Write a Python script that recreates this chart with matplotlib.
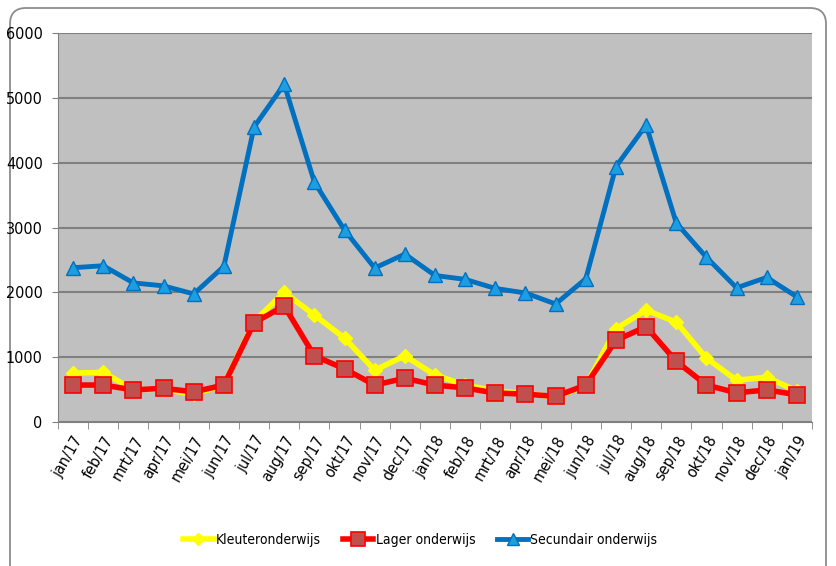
import numpy as np
import matplotlib
matplotlib.use("Agg")
import matplotlib.pyplot as plt
from matplotlib.patches import FancyBboxPatch

plt.rcParams['font.family'] = ['DejaVu Sans']
plt.rcParams['font.stretch'] = 'condensed'

months = ["jan/17", "feb/17", "mrt/17", "apr/17", "mei/17", "jun/17", "jul/17", "aug/17",
          "sep/17", "okt/17", "nov/17", "dec/17", "jan/18", "feb/18", "mrt/18", "apr/18",
          "mei/18", "jun/18", "jul/18", "aug/18", "sep/18", "okt/18", "nov/18", "dec/18",
          "jan/19"]

kleuter = [755, 765, 500, 505, 425, 570, 1550, 2000, 1650, 1295, 800, 1020, 725, 570,
           480, 440, 385, 560, 1440, 1725, 1540, 985, 645, 690, 480]
lager = [570, 570, 495, 520, 465, 570, 1530, 1790, 1020, 820, 570, 675, 570, 525,
         447, 430, 395, 570, 1260, 1470, 935, 570, 450, 495, 420]
secundair = [2380, 2410, 2145, 2100, 1975, 2400, 4550, 5210, 3700, 2960, 2375, 2590,
             2260, 2200, 2060, 1990, 1820, 2210, 3940, 4580, 3070, 2540, 2070, 2230, 1930]

fig = plt.figure(figsize=(8.36, 5.66), dpi=100)

# rounded frame round the chart, drawn in pixel units on a background axes
bg = fig.add_axes([0, 0, 1, 1])
bg.set_xlim(0, 836)
bg.set_ylim(566, 0)
bg.axis("off")
bg.add_patch(FancyBboxPatch((10, 8), 816, 600, boxstyle="round,pad=0,rounding_size=16",
                            facecolor="white", edgecolor="#8c8c8c", linewidth=1.3))

ax = fig.add_axes([58/836, 1-422/566, (812-58)/836, (422-33)/566])

x = np.arange(len(months))
ax.set_facecolor("#c0c0c0")

ax.plot(x, kleuter, color="#ffff00", lw=4, marker="D", ms=7,
        mfc="#ffff00", mec="#ffff00", label="Kleuteronderwijs", zorder=3)
ax.plot(x, lager, color="#ff0000", lw=4, marker="s", ms=11,
        mfc="#c0504d", mec="#ff0000", mew=1.2, label="Lager onderwijs", zorder=4)
ax.plot(x, secundair, color="#0070c0", lw=3.5, marker="^", ms=10,
        mfc="#1e9ee0", mec="#0070c0", mew=1, label="Secundair onderwijs", zorder=5)

ax.set_xlim(-0.5, len(months) - 0.5)
ax.set_ylim(0, 6000)
ax.set_yticks(range(0, 6001, 1000))
ax.yaxis.grid(True, color="#808080", lw=1.5)
ax.set_axisbelow(True)

ax.set_xticks(x)
ax.set_xticklabels(months, rotation=60, ha="right", rotation_mode="anchor", fontsize=11.5)
ax.set_xticks(np.arange(-0.5, len(months)), minor=True)
ax.tick_params(axis="x", which="major", length=0, pad=8)
ax.tick_params(axis="x", which="minor", length=5, color="#808080")
ax.tick_params(axis="y", length=4, color="#808080", labelsize=11.5, pad=7)

for s in ["top", "right"]:
    ax.spines[s].set_visible(False)
ax.spines["left"].set_color("#808080")
ax.spines["bottom"].set_color("#808080")

fig.legend(loc="center", bbox_to_anchor=(420/836, 1-540/566), ncol=3, frameon=False,
           fontsize=10, handlelength=2.2, handletextpad=0.15, columnspacing=1.6,
           markerscale=0.9)

plt.savefig("out.png", dpi=100)
